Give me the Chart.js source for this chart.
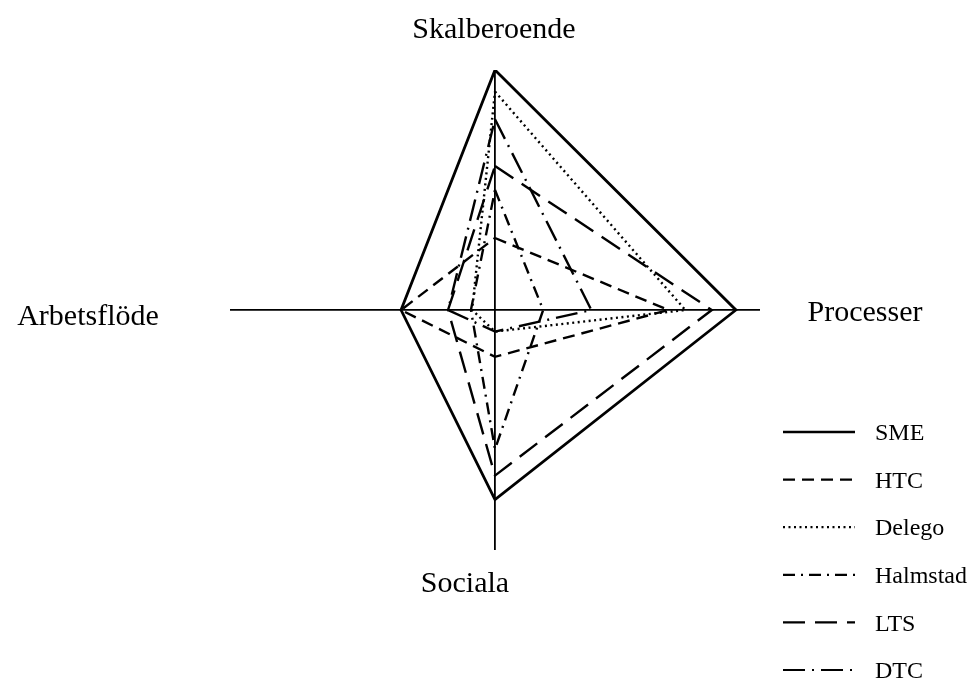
<!DOCTYPE html>
<html>
<head>
<meta charset="utf-8">
<script src="https://cdn.jsdelivr.net/npm/chart.js@4.4.0/dist/chart.umd.min.js"></script>
<style>
  html, body { margin: 0; padding: 0; background: #fff; }
  #wrap { width: 977px; height: 682px; }
</style>
</head>
<body>
<div id="wrap"><canvas id="miGrafico" width="977" height="682"></canvas></div>
<script>
// axes in drawing order: top, right, bottom, left
const ejes = ['Skalberoende', 'Processer', 'Sociala', 'Arbetsflöde'];
const nombres = ['SME', 'HTC', 'Delego', 'Halmstad', 'LTS', 'DTC'];
const sme = [10, 10, 7.9, 3.9];
const htc = [3.0, 7.2, 1.95, 3.9];
const delego = [9.1, 7.9, 0.9, 0.95];
const halmstad = [5.0, 2.0, 5.8, 1.0];
const lts = [6.0, 9.0, 6.9, 1.95];
const dtc = [7.95, 4.0, 0.9, 1.95];
const guiones = [[], [12, 7], [2, 3.5], [12, 6, 2, 6], [22, 10], [22, 7, 2, 7]];

// one polygon: top -> right -> bottom -> left -> top
function aPuntos(v) {
    return [
        {x: 0, y: v[0]},
        {x: v[1], y: 0},
        {x: 0, y: -v[2]},
        {x: -v[3], y: 0},
        {x: 0, y: v[0]}
    ];
}

const valores = [sme, htc, delego, halmstad, lts, dtc];
const datasets = [];
for (let i = 0; i < valores.length; i++) {
    datasets.push({
        label: nombres[i],
        data: aPuntos(valores[i]),
        showLine: true,
        borderColor: '#000',
        backgroundColor: '#000',
        borderWidth: i == 0 ? 2.8 : 2.4,
        borderDash: guiones[i],
        borderJoinStyle: 'miter',
        borderCapStyle: 'butt',
        pointRadius: 0,
        pointHoverRadius: 0,
        fill: false,
        tension: 0
    });
}

const fuente = '"Liberation Serif", "Times New Roman", serif';

// axis names at the ends + legend on the right
const textos = {
    id: 'textos',
    afterDraw(chart) {
        const ctx = chart.ctx;
        const a = chart.chartArea;
        const cx = chart.scales.x.getPixelForValue(0);
        const cy = chart.scales.y.getPixelForValue(0);
        ctx.save();
        ctx.fillStyle = '#000';
        ctx.font = '30px ' + fuente;
        ctx.textBaseline = 'middle';
        ctx.textAlign = 'center';
        ctx.fillText(ejes[0], cx - 1, a.top - 40);
        ctx.fillText(ejes[1], a.right + 105, cy + 3);
        ctx.fillText(ejes[2], cx - 30, a.bottom + 34);
        ctx.fillText(ejes[3], 88, cy + 7);

        // legend
        ctx.font = '24px ' + fuente;
        ctx.textAlign = 'left';
        for (let i = 0; i < nombres.length; i++) {
            const y = 432 + i * 47.6;
            ctx.beginPath();
            ctx.lineWidth = i == 0 ? 2.4 : 2.2;
            ctx.setLineDash(guiones[i]);
            ctx.moveTo(783, y);
            ctx.lineTo(855, y);
            ctx.stroke();
            ctx.setLineDash([]);
            ctx.fillText(nombres[i], 875, y + 2);
        }
        ctx.restore();
    }
};

const soloCero = (c) => c.tick && c.tick.value === 0 ? '#000' : 'rgba(0,0,0,0)';

const grafico = new Chart(document.getElementById('miGrafico'), {
    type: 'scatter',
    data: { datasets: datasets },
    options: {
        responsive: false,
        animation: false,
        events: [],
        layout: { padding: { left: 230, right: 217, top: 70, bottom: 132 } },
        plugins: {
            legend: { display: false },
            tooltip: { enabled: false }
        },
        scales: {
            x: {
                type: 'linear', min: -11, max: 11,
                ticks: { display: false, stepSize: 1 },
                grid: { color: soloCero, lineWidth: 1.8, drawTicks: false },
                border: { display: false }
            },
            y: {
                type: 'linear', min: -10, max: 10,
                ticks: { display: false, stepSize: 1 },
                grid: { color: soloCero, lineWidth: 1.8, drawTicks: false },
                border: { display: false }
            }
        }
    },
    plugins: [textos]
});
</script>
</body>
</html>
